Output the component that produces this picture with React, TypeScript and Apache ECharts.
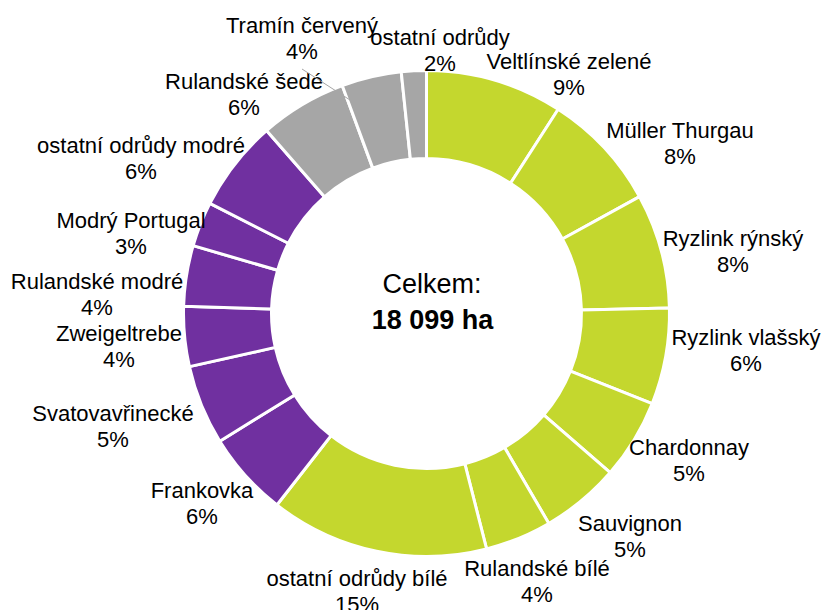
import React, { useEffect, useRef } from "react";
import * as echarts from "echarts";

// Vineyard area by grape variety (ha), total 18 099 ha
const varieties = [
  "Veltlínské zelené",
  "Müller Thurgau",
  "Ryzlink rýnský",
  "Ryzlink vlašský",
  "Chardonnay",
  "Sauvignon",
  "Rulandské bílé",
  "ostatní odrůdy bílé",
  "Frankovka",
  "Svatovavřinecké",
  "Zweigeltrebe",
  "Rulandské modré",
  "Modrý Portugal",
  "ostatní odrůdy modré",
  "Rulandské šedé",
  "Tramín červený",
  "ostatní odrůdy",
];
const areas = [1650, 1430, 1380, 1160, 960, 950, 800, 2630, 1020, 959, 720, 730, 540, 1100, 1050, 720, 300];
const groups = ["w", "w", "w", "w", "w", "w", "w", "w", "r", "r", "r", "r", "r", "r", "g", "g", "g"];
const centerTitle = "Celkem:";
const centerValue = "18 099 ha";

const groupColors: Record<string, string> = { w: "#C4D72E", r: "#7030A0", g: "#A6A6A6" };

// label block centres (layout only)
const labelPos: [number, number][] = [
  [569, 74.5],
  [680, 143],
  [733, 251],
  [746, 350],
  [689, 460],
  [630, 536],
  [537, 581],
  [357, 591],
  [202, 503],
  [113, 426],
  [119, 346],
  [97, 294],
  [131, 233],
  [141, 158],
  [244, 94],
  [302, 38.5],
  [440, 50.5],
];

export default function App() {
  const ref = useRef<HTMLDivElement>(null);
  useEffect(() => {
    document.body.style.margin = "0";
    const chart = echarts.init(ref.current!, null, { renderer: "svg" });
    const font = "'Liberation Sans', Arial, sans-serif";
    const data = varieties.map((name, i) => ({
      name,
      value: areas[i],
      itemStyle: { color: groupColors[groups[i]] },
    }));
    chart.setOption({
      animation: false,
      backgroundColor: "#ffffff",
      series: [
        {
          type: "pie",
          center: [426.5, 313.5],
          radius: [155, 243],
          startAngle: 90,
          clockwise: true,
          avoidLabelOverlap: false,
          itemStyle: { borderColor: "#ffffff", borderWidth: 3 },
          label: {
            show: true,
            position: "outside",
            color: "#000000",
            fontFamily: font,
            fontSize: 22,
            lineHeight: 26,
            align: "center",
            formatter: (p: any) => `${p.name}\n${Math.round(p.percent)}%`,
          },
          labelLine: { show: false },
          labelLayout: (p: any) => {
            const pos = labelPos[p.dataIndex];
            return { x: pos[0], y: pos[1], align: "center", verticalAlign: "middle" };
          },
          emphasis: { disabled: true },
          data,
        },
      ],
      graphic: [
        {
          type: "line",
          z: 10,
          shape: { x1: 302, y1: 69, x2: 350, y2: 100 },
          style: { stroke: "#A6A6A6", lineWidth: 1 },
        },
        {
          type: "text",
          x: 432,
          y: 283.5,
          style: {
            text: centerTitle,
            fontFamily: font,
            fontSize: 27,
            fill: "#000000",
            align: "center",
            verticalAlign: "middle",
          },
        },
        {
          type: "text",
          x: 432.5,
          y: 320,
          style: {
            text: centerValue,
            fontFamily: font,
            fontSize: 27,
            fontWeight: "bold",
            fill: "#000000",
            align: "center",
            verticalAlign: "middle",
          },
        },
      ],
    });
    return () => chart.dispose();
  }, []);
  return <div ref={ref} style={{ width: 824, height: 610 }} />;
}
